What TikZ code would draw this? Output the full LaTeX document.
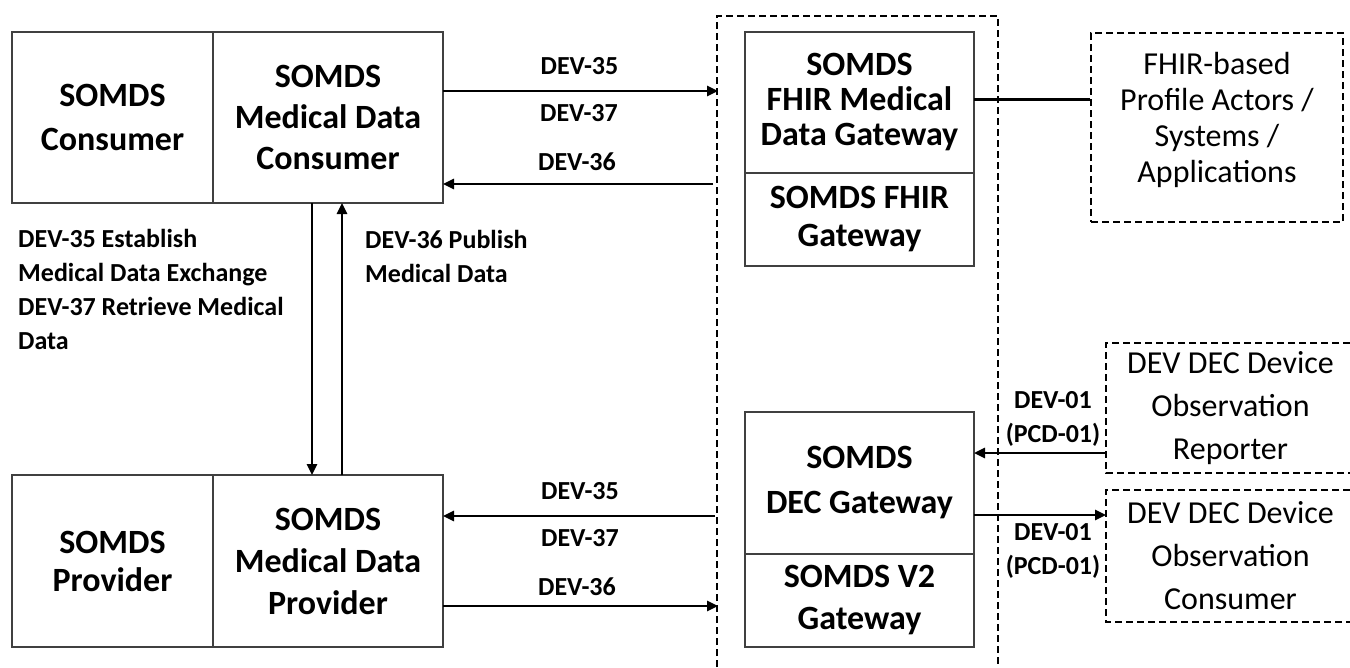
\documentclass[tikz,border=0pt]{standalone}
\usepackage{fontspec}
\setmainfont{Carlito}
\usetikzlibrary{arrows.meta,positioning}

\tikzset{
  blk/.style={draw=black!75, line width=1.6pt, inner sep=0pt, outer sep=0pt, align=center,
    font=\fontsize{34}{#1}\selectfont\bfseries},
  blk/.default=40,
  ext/.style={line width=1.8pt, dash pattern=on 7pt off 4pt},
  etxt/.style={inner sep=0pt, outer sep=0pt, align=center, font=\fontsize{32}{#1}\selectfont},
  etxt/.default=43,
  lbl/.style={inner sep=0pt, align=center, font=\fontsize{26}{34}\selectfont\bfseries},
  flow/.style={line width=2.5pt, -{Triangle[length=11pt,width=10pt]}},
}

\begin{document}
\begin{tikzpicture}[x=1pt, y=-1pt]
	\useasboundingbox (0,0) rectangle (1350,667);
	\coordinate (edge) at (1350,0);

	\node[blk=44, minimum width=201pt, minimum height=171pt] (cons) at (112.5,117.5) {SOMDS\\Consumer};
	\node[blk=41, minimum width=230pt, minimum height=171pt, right=0pt of cons] (mdc) {SOMDS\\Medical Data\\Consumer};
	\node[blk=38, minimum width=201pt, minimum height=172pt] (prov) at (112.5,561) {SOMDS\\Provider};
	\node[blk=42, minimum width=230pt, minimum height=172pt, right=0pt of prov] (mdp) {SOMDS\\Medical Data\\Provider};

	\draw[ext] (717,667) |- (998,16) -- (998,667);
	\node[blk=35, minimum width=229pt, minimum height=141pt] (fmdg) at (859.5,102.5) {SOMDS\\FHIR Medical\\Data Gateway};
	\node[blk=38, minimum width=229pt, minimum height=93pt, below=0pt of fmdg] (fgw) {SOMDS FHIR\\Gateway};
	\node[blk=45, minimum width=229pt, minimum height=142pt] (decgw) at (859.5,483) {SOMDS\\DEC Gateway};
	\node[blk=42, minimum width=229pt, minimum height=93pt, below=0pt of decgw] (v2gw) {SOMDS V2\\Gateway};

	\node[draw, ext, minimum width=252pt, minimum height=189pt] (fhir) at (1217,127.5) {};
	\node[etxt=36] (fhirtxt) at ([yshift=8pt]fhir.center) {FHIR-based\\Profile Actors /\\Systems /\\Applications};
	\node[etxt, minimum width=249pt, minimum height=130pt] (rep) at (1230.5,408) {DEV DEC Device\\Observation\\Reporter};
	\node[etxt, minimum width=249pt, minimum height=132pt] (dcon) at (1230.5,556) {DEV DEC Device\\Observation\\Consumer};
	\draw[ext] (rep.north -| edge) -| (rep.south west) -- (rep.south -| edge);
	\draw[ext] (dcon.north -| edge) -| (dcon.south west) -- (dcon.south -| edge);

	\coordinate (t35) at (718,91);
	\coordinate (t36) at (713,184);
	\coordinate (b35) at (715,516);
	\coordinate (b36) at (718,606);
	\draw[flow] (mdc.east |- t35) -- (t35);
	\draw[flow] (t36) -- (mdc.east |- t36);
	\draw[flow] (b35) -- (mdp.east |- b35);
	\draw[flow] (mdp.east |- b36) -- (b36);
	\draw[flow] ([xshift=-16pt]mdc.south) -- ([xshift=-16pt]mdp.north);
	\draw[flow] ([xshift=14pt]mdp.north) -- ([xshift=14pt]mdc.south);

	\draw[line width=2.5pt] ([yshift=3pt]fmdg.east) -- ([yshift=3pt]fmdg.east -| fhir.west);
	\coordinate (r1) at ([yshift=-45pt]rep.west);
	\coordinate (r2) at ([yshift=41pt]dcon.west);
	\draw[flow] (r1) -- (decgw.east |- r1);
	\draw[flow] (decgw.east |- r2) -- (r2);

	\node[lbl] (l35t) at (579.5,66.5) {DEV-35};
	\node[lbl] (l37t) at (579,113.5) {DEV-37};
	\node[lbl] (l36t) at (577,161.5) {DEV-36};
	\node[lbl] (l35b) at (580,491.5) {DEV-35};
	\node[lbl] (l37b) at (580,538.5) {DEV-37};
	\node[lbl] (l36b) at (577,586.5) {DEV-36};

	\node[lbl, align=left, anchor=west] (est) at (18,258) {DEV-35 Establish\\Medical Data Exchange};
	\node[lbl, align=left, anchor=west] (ret) at (18,323) {DEV-37 Retrieve Medical\\Data};
	\node[lbl, align=left, anchor=west] (pub) at (365,256) {DEV-36 Publish\\Medical Data};

	\node[lbl] (pcdr) at (1053,419) {DEV-01\\(PCD-01)};
	\node[lbl] (pcdc) at (1053,551) {DEV-01\\(PCD-01)};
\end{tikzpicture}
\end{document}
